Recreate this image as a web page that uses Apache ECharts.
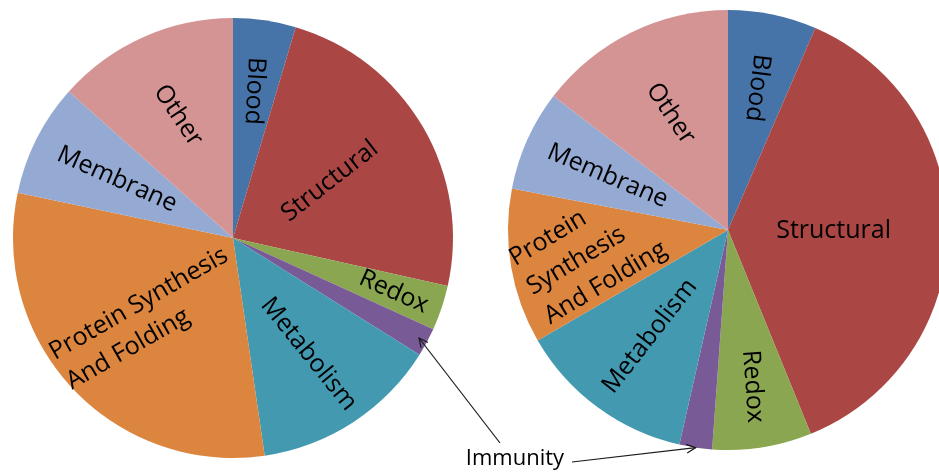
<!DOCTYPE html>
<html><head><meta charset="utf-8">
<script src="https://cdn.jsdelivr.net/npm/echarts@6/dist/echarts.min.js"></script>
<style>html,body{margin:0;padding:0;background:#fff}#c{width:939px;height:474px}</style>
</head><body><div id="c"></div>
<script>
// ---- data ----
const categories = ['Blood','Structural','Redox','Immunity','Metabolism','Protein Synthesis And Folding','Membrane','Other'];
const leftValues  = [4.6, 23.9, 3.3, 2.1, 13.8, 30.6, 8.3, 13.4];
const rightValues = [6.5, 37.4, 7.3, 2.4, 13.1, 11.4, 7.4, 14.6];
const leftLabels  = ['Blood','Structural','Redox','','Metabolism','Protein Synthesis\nAnd Folding','Membrane','Other'];
const rightLabels = ['Blood','Structural','Redox','','Metabolism','Protein\nSynthesis\nAnd Folding','Membrane','Other'];
const annotationText = 'Immunity';
const annotatedCategory = 'Immunity';

// ---- styles ----
const colors = ['#4673A8','#AA4644','#8AA650','#785B96','#4399B0','#DC853F','#94AAD2','#D49494'];
const FONT = 'Open Sans';
const LABEL_SIZE = 25;
const leftRotate  = [-93, 38, -24, 0, -51, 30, -24, -56];
const rightRotate = [-97, 0, -86, 0, 52, 31, -23, -56];
const leftLabelPos  = [0.675, 0.51, 0.77, 0, 0.63, 0.535, 0.59, 0.61];
const rightLabelPos = [0.66, 0.48, 0.72, 0, 0.6, 0.645, 0.6, 0.59];

const pies = [
  {center:[233,238], radius:220, values:leftValues,  labels:leftLabels,  rotate:leftRotate,  pos:leftLabelPos},
  {center:[728,230], radius:220, values:rightValues, labels:rightLabels, rotate:rightRotate, pos:rightLabelPos}
];

const chart = echarts.init(document.getElementById('c'), null, {renderer:'canvas'});
const series = [];
const mainIdx = [];
pies.forEach((p) => {
  mainIdx.push(series.length);
  series.push({
    type:'pie', center:p.center, radius:p.radius, startAngle:90, clockwise:true,
    avoidLabelOverlap:false, silent:true, animation:false,
    label:{show:false}, labelLine:{show:false},
    itemStyle:{borderWidth:0},
    emphasis:{disabled:true},
    data: categories.map((c,i)=>({name:c, value:p.values[i], itemStyle:{color:colors[i]}}))
  });
  p.labels.forEach((txt, li) => {
    if (!txt) return;
    const k = p.pos[li] - 3 / p.radius;
    const inner = k >= 0.5 ? (2*k - 1) * p.radius : 0;
    const outer = k >= 0.5 ? p.radius : 2 * k * p.radius;
    series.push({
      type:'pie', center:p.center, radius:[inner, outer], startAngle:90, clockwise:true,
      silent:true, animation:false, z:3, avoidLabelOverlap:false,
      labelLayout:{hideOverlap:false},
      labelLine:{show:false}, emphasis:{disabled:true},
      itemStyle:{color:'rgba(0,0,0,0)', borderWidth:0},
      label:{show:false},
      data: categories.map((c,i)=>({
        name:c, value:p.values[i],
        label: i === li ? {
          show:true, position:'inside', rotate:p.rotate[i],
          formatter: txt.split('\n').map(s => '{t|' + s + '}').join('\n'),
          rich:{t:{fontFamily:FONT, fontSize:LABEL_SIZE, lineHeight:34, color:'#000', align:'left'}}
        } : {show:false}
      }))
    });
  });
});

chart.setOption({animation:false, backgroundColor:'#fff', series});

// ---- annotation arrows pointing to the Immunity slices ----
function tipOf(seriesIndex, frac) {
  const data = chart.getModel().getSeriesByIndex(seriesIndex).getData();
  const l = data.getItemLayout(categories.indexOf(annotatedCategory));
  const mid = (l.startAngle + l.endAngle) / 2;
  return [l.cx + l.r * frac * Math.cos(mid), l.cy + l.r * frac * Math.sin(mid)];
}
function arrow(tail, tip) {
  const ang = Math.atan2(tail[1] - tip[1], tail[0] - tip[0]);
  const len = 10, spread = 0.45;
  const w1 = [tip[0] + len * Math.cos(ang + spread), tip[1] + len * Math.sin(ang + spread)];
  const w2 = [tip[0] + len * Math.cos(ang - spread), tip[1] + len * Math.sin(ang - spread)];
  return [
    {type:'polyline', shape:{points:[tail, tip]}, style:{stroke:'#1a1a1a', lineWidth:1.2, fill:null}, z:10},
    {type:'polyline', shape:{points:[w1, tip, w2]}, style:{stroke:'#1a1a1a', lineWidth:1.2, fill:null}, z:10}
  ];
}
const leftTip = tipOf(mainIdx[0], 0.96);
const rightTip = tipOf(mainIdx[1], 1.0);
const graphic = [].concat(
  arrow([500, 443], leftTip),
  arrow([572, 462], rightTip),
  [{type:'text', x:515, y:459, z:10, style:{text:annotationText, fontFamily:FONT, fontSize:22, fill:'#000', align:'center', verticalAlign:'middle'}}]
);
chart.setOption({graphic});
</script>
</body></html>
